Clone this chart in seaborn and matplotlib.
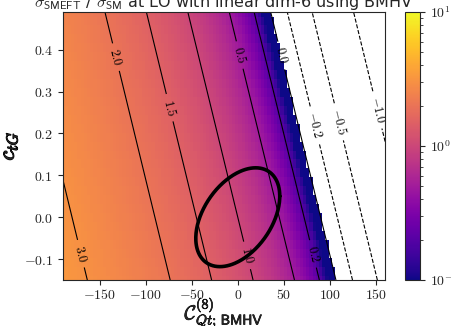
import numpy as np
import matplotlib
matplotlib.use("Agg")
import matplotlib.pyplot as plt
import matplotlib.patheffects as pe
import seaborn as sns
from matplotlib.colors import LogNorm
from matplotlib.ticker import FuncFormatter, NullFormatter

# ---- data ----
C_range = [-190.0, 160.0]          # C_Qt;BMHV^(8)
ctG_range = [-0.15, 0.49]          # c_tG
n_C, n_ctG = 101, 31               # grid resolution of the scan
lin_C = -1.0 / 90.0                # d(ratio)/dC_Qt
lin_ctG = -1.23                    # d(ratio)/dc_tG
levels = [-1.0, -0.5, -0.2, 0.0, 0.2, 0.5, 1.0, 1.5, 2.0, 3.0]
label_pos = [(151, 0.256), (110, 0.228), (83, 0.22), (46.7, 0.386),
             (80.8, -0.088), (1.4, 0.387), (8.6, -0.092),
             (-76.8, 0.26), (-136.6, 0.38), (-172, -0.088)]
ell_center = [0.0, 0.0]
ell_half = [45.6, 0.118]
ell_phase = 1.13
x_ticks = [-150, -100, -50, 0, 50, 100, 150]
y_ticks = [-0.1, 0.0, 0.1, 0.2, 0.3, 0.4]
title = r"$\sigma_{\mathsf{SMEFT}}$ / $\sigma_{\mathsf{SM}}$ at LO with linear dim-6 using BMHV"

sns.set_style("ticks")
plt.rcParams["font.family"] = ["DejaVu Sans"]
plt.rcParams["mathtext.fontset"] = "cm"

C = np.linspace(C_range[0], C_range[1], n_C)
G = np.linspace(ctG_range[0], ctG_range[1], n_ctG)
CC, GG = np.meshgrid(C, G)
R = 1.0 + lin_C * CC + lin_ctG * GG

fig = plt.figure(figsize=(4.52, 3.26), dpi=100)
ax = fig.add_axes([0.139, 0.141, 0.713, 0.822])
cax = fig.add_axes([0.896, 0.141, 0.033, 0.822])

Rm = np.ma.masked_less_equal(R, 0)
mesh = ax.pcolormesh(CC, GG, Rm, cmap="plasma", norm=LogNorm(0.1, 10), shading="nearest")
cs = ax.contour(CC, GG, R, levels=levels, colors="black", linewidths=0.8)
ax.clabel(cs, fmt=lambda v: f"${v:.1f}$", fontsize=9, inline=True, manual=label_pos)

t = np.linspace(0, 2 * np.pi, 300)
ex = ell_center[0] + ell_half[0] * np.cos(t)
ey = ell_center[1] + ell_half[1] * np.cos(t - ell_phase)
sns.lineplot(x=ex, y=ey, sort=False, estimator=None, color="black", linewidth=2.6, ax=ax)

ax.set_xlim(*C_range)
ax.set_ylim(*ctG_range)
ax.set_xticks(x_ticks)
ax.set_yticks(y_ticks)
ax.xaxis.set_major_formatter(FuncFormatter(lambda v, p: f"${v:g}$"))
ax.yaxis.set_major_formatter(FuncFormatter(lambda v, p: f"${v:.1f}$"))
ax.tick_params(labelsize=10)
ax.tick_params(axis="x", pad=2)
xl = ax.set_xlabel(r"$\mathcal{C}^{(8)}_{Qt;\,\mathsf{BMHV}}$", fontsize=14.5, labelpad=-5)
xl.set_path_effects([pe.withStroke(linewidth=0.5, foreground="black")])
yl = ax.set_ylabel(r"$c_{tG}$", fontsize=16, labelpad=3)
yl.set_path_effects([pe.withStroke(linewidth=0.9, foreground="black")])
ax.set_title(title, fontsize=11.5, pad=4)

cb = fig.colorbar(mesh, cax=cax)
cb.ax.yaxis.set_major_formatter(FuncFormatter(lambda v, p: f"$10^{{{int(round(np.log10(v)))}}}$"))
cb.ax.yaxis.set_minor_formatter(NullFormatter())
cb.ax.tick_params(labelsize=10)
cb.outline.set_linewidth(0.8)

fig.savefig("out.png", dpi=100)
